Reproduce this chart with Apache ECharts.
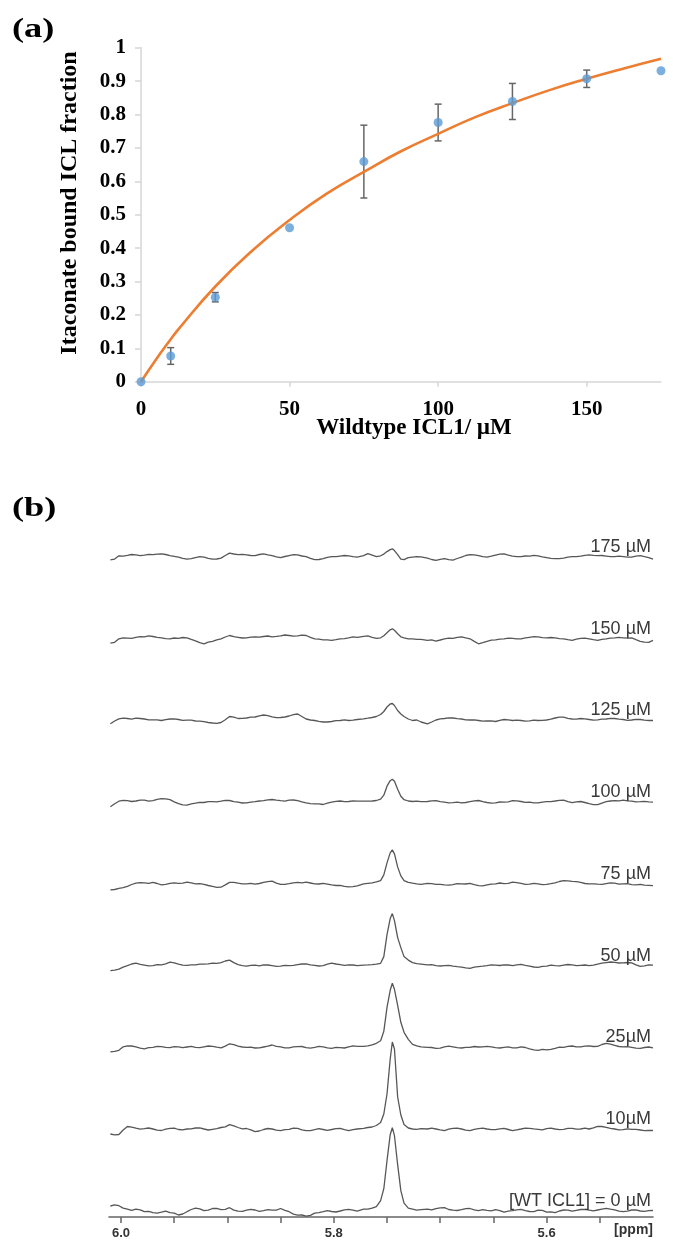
<!DOCTYPE html>
<html>
<head>
<meta charset="utf-8">
<script src="https://cdn.jsdelivr.net/npm/echarts@6/dist/echarts.min.js"></script>
<style>
  html, body { margin: 0; padding: 0; background: #fff; }
  #chart { width: 673px; height: 1243px; }
</style>
</head>
<body>
<div id="chart"></div>
<script>
// ---------- (a) itaconate binding titration ----------
const concentrations = [0, 10, 25, 50, 75, 100, 125, 150, 175];
const boundFraction  = [0, 0.077, 0.253, 0.461, 0.659, 0.776, 0.839, 0.907, 0.931];
const fractionError  = [0, 0.025, 0.014, 0, 0.109, 0.055, 0.054, 0.026, 0];

// fitted saturation curve
const fitConc     = [0, 5, 10, 12.5, 25, 37.5, 50, 62.5, 75, 87.5, 100, 112.5, 125, 137.5, 150, 162.5, 175];
const fitFraction = [0, 0.066, 0.127, 0.156, 0.285, 0.393, 0.484, 0.563, 0.628, 0.69, 0.742, 0.792, 0.834, 0.873, 0.907, 0.938, 0.967];

const concTicks = [0, 50, 100, 150];

// ---------- (b) 1H NMR spectra, itaconate vinyl signal ----------
const ppmLabelTicks = [6.0, 5.8, 5.6];
const ppmMinorTicks = [6.0, 5.95, 5.9, 5.85, 5.8, 5.75, 5.7, 5.65, 5.6, 5.55];

const ppm = [
  6.010, 6.006, 6.002, 5.998, 5.994, 5.990, 5.986, 5.982, 5.978, 5.974, 5.970, 5.966, 5.962, 5.958, 5.954,
  5.950, 5.946, 5.942, 5.938, 5.934, 5.930, 5.926, 5.922, 5.918, 5.914, 5.910, 5.906, 5.902, 5.898, 5.894,
  5.890, 5.886, 5.882, 5.878, 5.874, 5.870, 5.866, 5.862, 5.858, 5.854, 5.850, 5.846, 5.842, 5.838, 5.834,
  5.830, 5.826, 5.822, 5.818, 5.814, 5.810, 5.806, 5.802, 5.798, 5.794, 5.790, 5.786, 5.782, 5.778,
  5.772, 5.768, 5.764, 5.760, 5.756, 5.753, 5.750, 5.747, 5.745, 5.743, 5.740, 5.737, 5.734, 5.730, 5.726, 5.722, 5.718,
  5.712, 5.708, 5.704, 5.700, 5.696, 5.692, 5.688, 5.684, 5.680, 5.676, 5.672, 5.668, 5.664, 5.660, 5.656,
  5.652, 5.648, 5.644, 5.640, 5.636, 5.632, 5.628, 5.624, 5.620, 5.616, 5.612, 5.608, 5.604, 5.600, 5.596,
  5.592, 5.588, 5.584, 5.580, 5.576, 5.572, 5.568, 5.564, 5.560, 5.556, 5.552, 5.548, 5.544, 5.540, 5.536,
  5.532, 5.528, 5.524, 5.520, 5.516, 5.512, 5.508, 5.504, 5.500
];

const traceLabels = ['[WT ICL1] = 0 \u00b5M', '10\u00b5M', '25\u00b5M', '50 \u00b5M', '75 \u00b5M',
                     '100 \u00b5M', '125 \u00b5M', '150 \u00b5M', '175 \u00b5M'];

// intensities above each trace's own baseline (left wing | signal | right wing)
const spec0 = [
  4.7, 5.8, 5.0, 2.6, 1.5, 0.3, 1.5, 0.9, -1.0, -0.6, -2.0, -2.5, -1.5, -0.4, -2.0, -2.4, -4.3, -3.3, -1.0, 1.2,
  2.5, 1.8, 0.0, 0.6, 2.2, 2.4, 1.0, 1.4, 3.0, 0.6, -0.5, -0.6, 0.5, 1.4, 0.7, -0.6, 0.0, 1.0, 0.5, 0.6,
  2.2, 0.4, -1.0, -3.4, -4.5, -4.3, -5.5, -4.6, -2.5, -2.0, -1.0, 0.1, -0.8, -1.3, -0.3, 0.8, 1.3, 0.5, -0.5,
  1.5, 1.5, 2.5, 4.0, 10, 22, 50, 76, 83, 75, 46, 20, 7.5, 2.5, 1.5, 0.5, 1.0,
  1.5, 0.8, 2.0, 2.9, 3.0, 1.2, 0.5, 0.2, 1.0, 2.0, 2.2, 0.8, 0.0, 1.1, 0.3, -0.2, 1.0, 0.1, -1.5, -0.4,
  0.0, 0.9, 1.3, 0.1, -0.8, -0.9, 0.5, 0.3, -1.5, -1.1, -2.0, -0.3, 0.7, 0.6, -0.5, 0.4, 1.2, 1.4, 0.5, -0.2,
  0.7, 1.6, 2.3, 1.5, 0.8, -0.4, -1.0, -0.5, 0.7, 0.9, -0.3, -0.6, 0.0, 0.2
];
const spec10 = [
  -5, -5.8, -5.5, -1.0, 2.5, 1.9, 0.8, -0.2, 0.3, 1.0, 0, -1.2, -1.5, -0.1, 0.7, 0.9, -0.5, -0.9, 0, 0.2,
  1.0, 1.2, 0, -1.0, -0.3, 0.4, 1.5, 2.2, 4.3, 3.1, 1.5, 0.2, 0.5, -0.8, -2.7, -2.0, -0.5, 0.5, 0, -1.2,
  -1.7, -0.6, -0.3, 0.9, 0.7, -0.8, -1.7, -1.6, -0.7, 0.3, -0.5, -1.3, -0.5, 0.4, 0.7, -0.6, -1.7, -0.6, 0,
  0.7, 1.5, 2, 3.5, 6.5, 15, 35, 70, 87, 80, 32, 14, 4.5, 1, 0, -0.3, 0.3,
  0, 0.8, 0, -0.9, -1.7, -0.2, 0.7, 0.9, 0, -1.1, -1.7, -0.4, 0.3, 0.8, 0, -0.6, -0.7, 0.2, 0.7, -0.5,
  -1.7, -0.8, 0, 0.9, 0.7, 0.1, -0.3, -0.8, 0.3, 0.9, 0, -0.7, -0.3, 0.6, 0.7, -0.2, 0, 0.8, 0, 1.2,
  2.7, 2.5, 1.7, 0.6, 0, -0.9, -0.7, 0.2, -0.3, -0.4, -1.0, -1.6, -1.5, -1.5
];
const spec25 = [
  -4.5, -4.0, -3, 0.5, 1.5, 1.3, 0.5, -0.8, -1.5, -0.4, 0, 0.9, 0.7, 0.0, -0.3, 0.6, 0.5, -0.4, 0.3, 0.9,
  0, -0.3, 0.5, 1.3, 1.0, 0.1, -0.5, 1.2, 3.5, 2.6, 1.2, 0.3, 0, 0.1, -0.7, -0.6, 0.3, 1.2, 2.3, 1.0,
  0.5, -0.6, -0.5, 0.4, 0.7, 0.8, -0.3, -0.8, 0, 0.9, 0.5, -0.6, -1.0, -0.1, -0.3, -0.7, 0.5, 1.4, 1.0,
  1, 1.5, 2.5, 4, 6.5, 16, 40, 57, 64, 58, 42, 25, 15, 8, 3, 1.5, 0.5,
  0, -0.2, -1, -0.8, 0.5, 1.1, 0.5, -0.4, -0.7, -0.1, 0, 0.8, 0.3, 0.4, 1.0, 0.5, -0.3, -0.7, 0, 0.4,
  -0.5, -0.5, 0.5, -0.2, -1.5, -2.6, -3.0, -2.1, -2.5, -2.0, -1.0, 0.1, 0, 0.9, 1.3, 0.4, 0.5, 1.2, 1.5, 0.8,
  1.0, 2.8, 4.0, 3.2, 2.0, 0.8, 0.5, 0.7, 0, -0.8, -1.0, -0.2, 0.3, -0.5
];
const spec50 = [
  -5, -4.6, -3.5, -1.5, 0, 1.6, 2.5, 1.2, 0.5, -0.3, 0, 0.9, 0.7, 1.8, 3.5, 2.8, 1.5, 0.4, 0.3, 0.8,
  0.7, 1.4, 1.5, 1.8, 2.5, 2.2, 3.0, 4.6, 5.5, 3.0, 1.0, 0.0, -0.5, 0.3, 0.5, -0.2, 0.7, 0.6, 0, -0.7,
  -0.5, 0.3, 0, 0.2, 1.0, 1.6, 1.7, 0.8, 0.3, -0.4, 0, 1.4, 2.5, 1.6, 1.0, 0.3, 0.7, 0.6, 0,
  0.5, 0.7, 1.0, 1.5, 2.3, 9, 31, 47, 52, 45, 28, 18, 9, 5.5, 3, 2, 1.5,
  0.7, 0.9, 0, -0.4, 0, 0.3, -0.5, -1.1, -1.5, -2.2, -2.7, -1.6, -1, -0.6, 0, 0.8, 0.5, 0.1, 0.7, 0.6,
  0, 0.7, 1.2, 0.2, -0.5, -1.4, -1.7, -0.8, -0.5, 0.4, 0, -0.2, 0.5, 1.1, 0.7, 0, 0.3, 0.6, 0, 0.5,
  1.5, 2.4, 3.0, 3.6, 3.3, 2.6, 2.7, 3.1, 2.7, 0.8, -0.7, -0.3, 0.7, 0.5
];
const spec75 = [
  -6, -5.6, -4.5, -3.8, -2.5, -0.6, 0.7, 1.3, 1.0, 0.6, 1.5, 0.4, -1.0, -0.4, 0.5, 1.1, 0.5, 0.8, 1.7, 1.0,
  0, 0.2, -0.5, -1.6, -2.5, -3.4, -3.3, -1.0, 1.5, 1.6, 0.7, 0.1, 0, 0.5, -0.3, 0.4, 1.5, 2.2, 2.7, 0.8,
  -0.5, -0.4, 0.3, 1.1, 1.5, 1.0, 1.7, 0.9, 0, -0.1, 0.5, -0.2, -1.0, -1.6, -1.5, -2.4, -3.0, -2.7, -2.0,
  0, 0.5, 1, 2, 3.3, 9, 21, 31, 34, 30, 17, 8, 3.3, 1.5, 0.7, 0, -0.5,
  0.5, 0.2, -0.5, -0.4, -1.0, -1.3, -0.7, 0.2, 0, -0.1, 0.5, -0.8, -1.7, -1.9, -1, -0.2, 0, 0.9, 0.3, 0.6,
  1.7, 1.3, 0.5, -0.4, -0.3, 0.5, 0, -0.8, -0.5, 0.2, 1.0, 2.4, 3.3, 3.0, 2.5, 2.2, 1.5, 0.4, 0, 0.1,
  -0.3, -0.5, 0.3, 1.0, 0.7, -0.3, 0, 0.2, -0.7, -1.0, -0.5, -1.3, -1.5, -1.7
];
const spec100 = [
  -4.5, -1.5, 1, 1.8, 1.5, 0.7, 1.2, 2.0, 2, 1.1, 1.5, 2.8, 3.5, 3.4, 2.5, 0.4, -1.5, -2.7, -3, -1.7,
  -1, -0.2, -0.3, 0.6, 0.5, 0.4, 1.0, 1.9, 1.7, 0.5, 0, -0.8, -0.7, 0.1, 0.5, 1.2, 1.5, 2.4, 2.7, 2.0,
  1.5, 1.1, 2, 2.2, 1.5, 0.3, -0.7, -1.4, -1.7, -1.6, -2.3, -1.0, 0, 0.9, 1.2, 0.6, 0.7, 1.4, 1.0,
  1, 1, 1.2, 1.7, 3, 7, 16, 21.5, 23, 21, 13, 6, 2.5, 1.2, 0.7, 1.0, 0.5,
  0.7, 1.4, 1.5, 0.5, 0, -0.6, -0.5, 0.1, -0.7, -0.3, 0.5, 1.3, 1.7, 0.5, -0.3, -0.9, -0.7, 0.2, 0, 0.4,
  1.5, 1.4, 0.7, -0.2, 0, -0.6, -0.7, 0.1, 0.5, 0.6, 1.2, 1.9, 2.0, 0.6, -0.5, 0.3, 0.7, -0.3, -1.5, -2.4,
  -2.5, -0.9, 0.5, 1.2, 1.5, 1.4, 2.0, 1.3, 1.0, 0.3, 0.5, 0.8, 0.3, 0
];
const spec125 = [
  -3.3, -0.5, 1.7, 2.4, 2.0, 1.4, 2.3, 2.0, 1.5, 0.6, 0.7, 0.6, 0, 0.9, 1.5, 1.6, 1.0, 0.2, 0.3, 0.4,
  -0.5, -0.6, -1.2, -2.0, -2.5, -2.9, -2.0, 0.8, 4.0, 3.4, 2.0, 2.1, 2.5, 3.4, 3.5, 4.6, 5.5, 4.9, 3.7, 2.9,
  3.0, 3.5, 4.5, 5.8, 6.5, 4.0, 1.5, 0.5, 0, -0.9, -1.5, -1.5, -1.0, -0.2, 0, 0.6, 0, 0.3, 1.0,
  1.7, 2.3, 3, 4, 6, 9, 13.5, 16.5, 17, 15, 10, 6.5, 4, 1.5, 0, 0.5, -1.5,
  -3.3, -1.5, 0.5, 1.6, 2, 2.6, 2.5, 1.8, 1.5, 0.7, 0.5, 0.6, 0, -0.6, -0.5, -0.4, -1.0, 0.2, 1.0, 0.6,
  0, 0.3, 0, -0.7, -0.3, 0.4, 0, 0.2, 0.5, 1.4, 2.5, 3.4, 3.3, 2.2, 1.5, 1.4, 2, 1.6, 1.0, 0.3,
  0.7, 1.4, 1.5, 2.2, 2.0, 1.3, 1.0, 0.2, 0.5, 1.2, 1.0, 0.3, 0, 0
];
const spec150 = [
  -4.3, -3.5, 0, 0.9, 0.7, 0.5, 1.5, 2.1, 2.0, 3.0, 2.3, 1.4, 1.0, 0.1, 0, 0.8, 0.5, 1.3, 1.0, -0.6,
  -2.0, -3.8, -5.0, -3.4, -2.5, -1.0, 0, 1.8, 3.3, 2.2, 1.5, 0.8, 1.0, 1.7, 2.0, 1.6, 2.3, 2.8, 2.0, 2.4,
  3.0, 3.8, 3.3, 2.6, 3.0, 3.7, 3.3, 1.4, 0, -0.3, -1.0, -1.1, -1.5, -0.8, 0, 0.2, 1.0, 1.9, 1.5,
  2.5, 3.0, 1.5, 0.5, 1.0, 3, 6, 9, 10, 8.5, 5, 2, 1, 0, 0, -0.5, -0.5,
  -1.5, -1.0, -2.3, -1.2, 0, 0.6, 0.5, 1.4, 2.0, 0.9, 0, -2.6, -5.0, -3.9, -2.5, -1.4, -1.0, -0.3, 0, 0.6,
  0.5, -0.1, 0, 0.9, 1.5, 2.1, 2.0, 1.2, 1.0, 1.3, 1.0, 0.2, 0, -0.9, -1.5, -0.3, 0.5, 0.6, 0, -0.9,
  -1.5, -0.5, 0, 0.7, 1.0, 1.4, 1.0, 0.6, 1.0, -0.8, -2.5, -3.3, -3.5, -1.5
];
const spec175 = [
  -2.7, -2.0, 1.3, 1.0, 1.7, 2.6, 2.3, 1.5, 2.0, 2.7, 2.5, 3.0, 3.3, 2.6, 1.5, 0.8, 0, -1.2, -2.0, -1.5,
  -0.5, 0.4, 0, -1.3, -2.0, -1.9, -1.0, 1.6, 4.0, 3.1, 2.5, 2.7, 2.3, 1.6, 1.5, 2.6, 3.3, 2.2, 1.5, 0.3,
  -0.5, 0.6, 1.5, 2.4, 2.3, 1.1, 0.5, -1.3, -2.5, -2.4, -1.5, -0.3, 0.5, 0.4, 1.0, 1.6, 1.3, 0.5, 0,
  1.5, 3.5, 2, 0.5, 1.3, 3, 5.5, 7.5, 8.3, 6.5, 2.5, -2.0, -2.5, -0.5, 0, 0.5, 0.3,
  -1.0, -2.4, -3.3, -2.2, -1.5, -2.6, -3.0, -1.4, 0, 1.6, 2.5, 2.2, 1.5, 0.5, 0, 0.9, 2.0, 2.9, 3.3, 2.0,
  1.0, 0.4, 0.5, 1.1, 1.0, 1.7, 1.3, 0.3, -0.5, -1.3, -1.5, -1.6, -1.0, -0.1, 0.5, 0.4, 1.0, 1.8, 2.3, 1.7,
  1.5, 1.6, 1.0, 0.4, 0.5, 1.0, 0.5, -0.1, 0, 0.9, 1.5, 0.4, -0.5, -2.0
];

const spectra = [spec0, spec10, spec25, spec50, spec75, spec100, spec125, spec150, spec175];

// ---------- layout ----------
const SERIF = '"Liberation Serif", "Times New Roman", serif';
const SANS = '"Liberation Sans", Arial, sans-serif';
const AXIS_GREY = '#d6d6d6';
const TRACE_GREY = '#575757';

const GRID_B_HEIGHT = 687;      // spectra panel height; y units = pixels
const TRACE_BASE = 6.3;         // lowest trace baseline above the ppm axis
const TRACE_STEP = 81.7;        // vertical stacking step between traces

const chart = echarts.init(document.getElementById('chart'), null, { renderer: 'canvas' });

const pointData = concentrations.map((c, i) => [c, boundFraction[i], fractionError[i]]);
const fitData = fitConc.map((c, i) => [c, fitFraction[i]]);

const traceSeries = spectra.map((s, i) => ({
  type: 'line',
  xAxisIndex: 1,
  yAxisIndex: 1,
  silent: true,
  showSymbol: false,
  symbol: 'none',
  smooth: false,
  data: ppm.map((p, k) => [p, TRACE_BASE + i * TRACE_STEP + s[k]]),
  lineStyle: { color: TRACE_GREY, width: 1.3 },
  z: 2
}));

chart.setOption({
  animation: false,
  backgroundColor: '#ffffff',
  grid: [
    { left: 141, right: 12, top: 47.7, height: 334 },
    { left: 109, right: 20, top: 530, height: GRID_B_HEIGHT }
  ],
  xAxis: [
    {
      gridIndex: 0, type: 'value', min: 0, max: 175,
      axisLine: { show: true, lineStyle: { color: AXIS_GREY, width: 1.5 } },
      axisTick: { show: true, length: 5, customValues: concTicks, lineStyle: { color: AXIS_GREY, width: 1.5 } },
      axisLabel: {
        customValues: concTicks, margin: 17,
        fontFamily: SERIF, fontWeight: 'bold', fontSize: 21, color: '#000'
      },
      splitLine: { show: false }
    },
    {
      gridIndex: 1, type: 'value', inverse: true, min: 5.5, max: 6.0113,
      axisLine: { show: true, onZero: false, lineStyle: { color: '#666', width: 1.6 } },
      axisTick: { show: true, length: 6, customValues: ppmMinorTicks, lineStyle: { color: '#666', width: 1.5 } },
      axisLabel: {
        customValues: ppmLabelTicks, margin: 10,
        formatter: v => Number(v).toFixed(1),
        fontFamily: SANS, fontWeight: 'bold', fontSize: 13, color: '#333'
      },
      splitLine: { show: false }
    }
  ],
  yAxis: [
    {
      gridIndex: 0, type: 'value', min: 0, max: 1, interval: 0.1,
      axisLine: { show: true, lineStyle: { color: AXIS_GREY, width: 1.5 } },
      axisTick: { show: true, length: 6, lineStyle: { color: AXIS_GREY, width: 1.5 } },
      axisLabel: {
        margin: 15,
        formatter: v => String(Math.round(v * 10) / 10),
        fontFamily: SERIF, fontWeight: 'bold', fontSize: 21, color: '#000'
      },
      splitLine: { show: false }
    },
    { gridIndex: 1, type: 'value', min: 0, max: GRID_B_HEIGHT, show: false }
  ],
  series: [
    {
      type: 'custom',
      xAxisIndex: 0, yAxisIndex: 0,
      silent: true,
      z: 2,
      data: pointData,
      encode: { x: 0, y: 1 },
      renderItem: (params, api) => {
        const x = api.value(0), y = api.value(1), e = api.value(2);
        if (!e) return { type: 'group', children: [] };
        const top = api.coord([x, y + e]);
        const bot = api.coord([x, y - e]);
        const cap = 3.5;
        const style = { stroke: '#666666', lineWidth: 1.5 };
        return {
          type: 'group',
          children: [
            { type: 'line', shape: { x1: top[0], y1: top[1], x2: bot[0], y2: bot[1] }, style },
            { type: 'line', shape: { x1: top[0] - cap, y1: top[1], x2: top[0] + cap, y2: top[1] }, style },
            { type: 'line', shape: { x1: bot[0] - cap, y1: bot[1], x2: bot[0] + cap, y2: bot[1] }, style }
          ]
        };
      }
    },
    {
      type: 'line',
      xAxisIndex: 0, yAxisIndex: 0,
      silent: true,
      smooth: true,
      showSymbol: false,
      symbol: 'none',
      data: fitData,
      lineStyle: { color: '#ed7d31', width: 2.6 },
      z: 3
    },
    {
      type: 'scatter',
      xAxisIndex: 0, yAxisIndex: 0,
      silent: true,
      symbol: 'circle',
      symbolSize: 9,
      clip: false,
      data: pointData.map(d => [d[0], d[1]]),
      itemStyle: { color: '#5b9bd5' },
      z: 4
    },
    ...traceSeries
  ]
});

// text elements: panel tags, axis titles, trace labels
const graphics = [
  { type: 'text', x: 12, y: 30, scaleX: 1.3,
    style: { text: '(a)', font: 'bold 28px ' + SERIF, fill: '#000', textVerticalAlign: 'middle' } },
  { type: 'text', x: 12, y: 509, scaleX: 1.3,
    style: { text: '(b)', font: 'bold 28px ' + SERIF, fill: '#000', textVerticalAlign: 'middle' } },
  { type: 'text', x: 70, y: 203, rotation: Math.PI / 2,
    style: { text: 'Itaconate bound ICL fraction', font: 'bold 24px ' + SERIF, fill: '#000',
             textAlign: 'center', textVerticalAlign: 'middle' } },
  { type: 'text', x: 414, y: 428,
    style: { text: 'Wildtype ICL1/ \u00b5M', font: 'bold 23px ' + SERIF, fill: '#000',
             textAlign: 'center', textVerticalAlign: 'middle' } },
  { type: 'text', x: 653, y: 1230,
    style: { text: '[ppm]', font: 'bold 14px ' + SANS, fill: '#333',
             textAlign: 'right', textVerticalAlign: 'middle' } }
];

traceLabels.forEach((label, i) => {
  const pt = chart.convertToPixel({ xAxisIndex: 1, yAxisIndex: 1 }, [5.5, TRACE_BASE + i * TRACE_STEP]);
  graphics.push({
    type: 'text', x: pt[0] - 2, y: pt[1] - 10,
    style: { text: label, font: '18px ' + SANS, fill: '#3a3a3a',
             textAlign: 'right', textVerticalAlign: 'middle' },
    z: 10
  });
});

chart.setOption({ graphic: graphics });
</script>
</body>
</html>
